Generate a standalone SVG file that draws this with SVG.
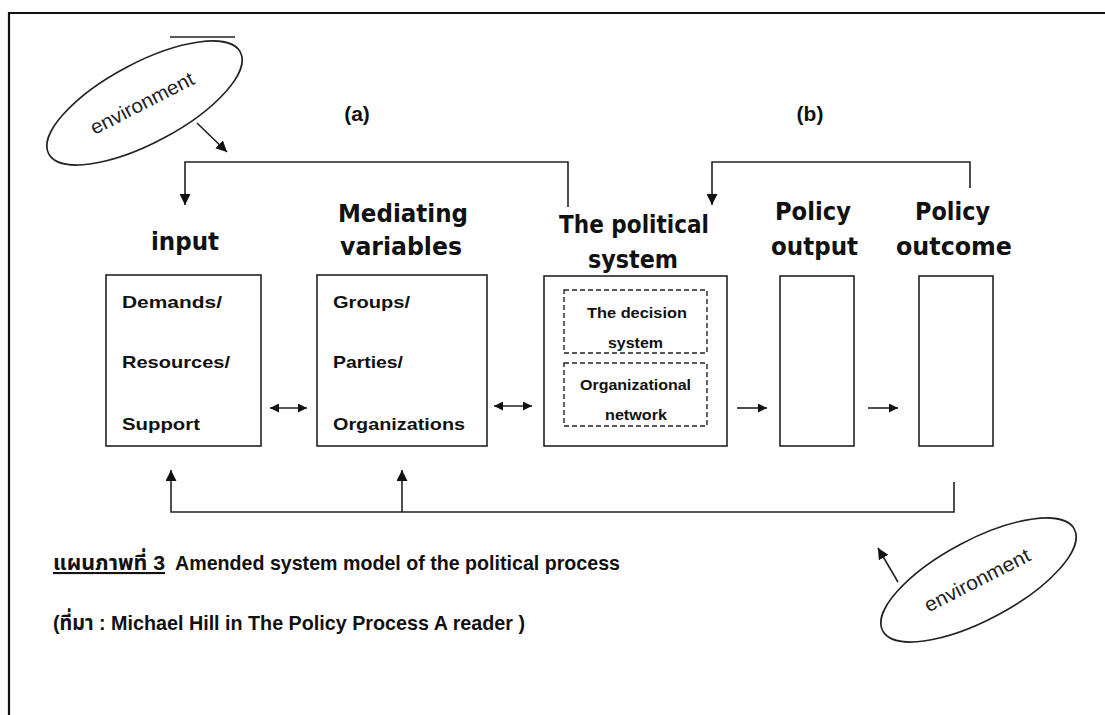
<svg xmlns="http://www.w3.org/2000/svg" width="1105" height="715" viewBox="0 0 1105 715">
  <style>
    .frame { fill: none; stroke: #111; stroke-width: 2.2; }
    .box { fill: #fff; stroke: #222; stroke-width: 1.6; }
    .dash { fill: none; stroke: #222; stroke-width: 1.4; stroke-dasharray: 5 3; }
    .wire { fill: none; stroke: #222; stroke-width: 1.6; }
    .env { fill: #fff; stroke: #222; stroke-width: 1.6; }
    .head { font-family: "DejaVu Sans", Verdana, sans-serif; font-weight: bold; font-size: 25px; fill: #111; }
    .item { font-family: "Liberation Sans", Arial, sans-serif; font-weight: bold; font-size: 17px; fill: #111; }
    .small { font-family: "Liberation Sans", Arial, sans-serif; font-weight: bold; font-size: 15px; fill: #111; }
    .envtxt { font-family: "Liberation Sans", Arial, sans-serif; font-size: 20px; fill: #222; }
    .tag { font-family: "Liberation Sans", Arial, sans-serif; font-weight: bold; font-size: 21px; fill: #111; }
    .cap { font-family: "Liberation Sans", Arial, "Noto Sans Thai", "Noto Serif Thai", Loma, Garuda, "Tlwg Typo", "DejaVu Sans", sans-serif; font-weight: bold; font-size: 21px; fill: #111; }
  </style>
  <defs>
    <marker id="tri" viewBox="0 0 10 10" refX="10" refY="5" markerWidth="11" markerHeight="11" markerUnits="userSpaceOnUse" orient="auto-start-reverse">
      <path d="M0,0 L10,5 L0,10 Z" fill="#111"/>
    </marker>
    <marker id="tri-s" viewBox="0 0 10 10" refX="10" refY="5" markerWidth="9" markerHeight="9" markerUnits="userSpaceOnUse" orient="auto-start-reverse">
      <path d="M0,0 L10,5 L0,10 Z" fill="#111"/>
    </marker>
  </defs>

  <rect width="1105" height="715" fill="#fff"/>
  <!-- page frame: top and left edges -->
  <path class="frame" d="M9,715 V13 H1105"/>

  <!-- environment bubble, top left -->
  <g id="env-top">
    <line x1="170" y1="37" x2="235" y2="37" stroke="#222" stroke-width="1.6"/>
    <ellipse class="env" cx="144.5" cy="103" rx="108.5" ry="40" transform="rotate(-28 144.5 103)"/>
    <text class="envtxt" x="142" y="110" text-anchor="middle" textLength="114" lengthAdjust="spacingAndGlyphs" transform="rotate(-27 142 103)">environment</text>
  </g>

  <!-- environment bubble, bottom right -->
  <g id="env-bottom">
    <ellipse class="env" cx="978.5" cy="580" rx="108.5" ry="40" transform="rotate(-28 978.5 580)"/>
    <text class="envtxt" x="977" y="587" text-anchor="middle" textLength="116" lengthAdjust="spacingAndGlyphs" transform="rotate(-27 977 580)">environment</text>
  </g>

  <text class="tag" x="357" y="121" text-anchor="middle">(a)</text>
  <text class="tag" x="810" y="121" text-anchor="middle">(b)</text>

  <g id="input">
    <text class="head" x="151" y="250" textLength="68" lengthAdjust="spacingAndGlyphs">input</text>
    <rect class="box" x="106" y="275" width="155" height="171"/>
    <text class="item" x="122" y="308" textLength="100" lengthAdjust="spacingAndGlyphs">Demands/</text>
    <text class="item" x="122" y="368" textLength="108" lengthAdjust="spacingAndGlyphs">Resources/</text>
    <text class="item" x="122" y="430" textLength="78" lengthAdjust="spacingAndGlyphs">Support</text>
  </g>

  <g id="mediating">
    <text class="head" x="338" y="222" textLength="130" lengthAdjust="spacingAndGlyphs">Mediating</text>
    <text class="head" x="340" y="255" textLength="122" lengthAdjust="spacingAndGlyphs">variables</text>
    <rect class="box" x="317" y="275" width="170" height="171"/>
    <text class="item" x="333" y="308" textLength="77" lengthAdjust="spacingAndGlyphs">Groups/</text>
    <text class="item" x="333" y="368" textLength="70" lengthAdjust="spacingAndGlyphs">Parties/</text>
    <text class="item" x="333" y="430" textLength="132" lengthAdjust="spacingAndGlyphs">Organizations</text>
  </g>

  <g id="political-system">
    <text class="head" x="559" y="233" textLength="150" lengthAdjust="spacingAndGlyphs">The political</text>
    <text class="head" x="588" y="268" textLength="90" lengthAdjust="spacingAndGlyphs">system</text>
    <rect class="box" x="544" y="276" width="183" height="170"/>
    <rect class="dash" x="564" y="290" width="143" height="63"/>
    <rect class="dash" x="564" y="363" width="143" height="63"/>
    <text class="small" x="587" y="318" textLength="100" lengthAdjust="spacingAndGlyphs">The decision</text>
    <text class="small" x="608" y="348" textLength="55" lengthAdjust="spacingAndGlyphs">system</text>
    <text class="small" x="580" y="390" textLength="111" lengthAdjust="spacingAndGlyphs">Organizational</text>
    <text class="small" x="605" y="420" textLength="62" lengthAdjust="spacingAndGlyphs">network</text>
  </g>

  <g id="policy-output">
    <text class="head" x="775" y="220" textLength="76" lengthAdjust="spacingAndGlyphs">Policy</text>
    <text class="head" x="771" y="255" textLength="87" lengthAdjust="spacingAndGlyphs">output</text>
    <rect class="box" x="780" y="276" width="74" height="170"/>
  </g>

  <g id="policy-outcome">
    <text class="head" x="915" y="220" textLength="75" lengthAdjust="spacingAndGlyphs">Policy</text>
    <text class="head" x="896" y="255" textLength="116" lengthAdjust="spacingAndGlyphs">outcome</text>
    <rect class="box" x="919" y="276" width="74" height="170"/>
  </g>

  <g id="connectors">
    <!-- environment pressure arrows -->
    <line class="wire" x1="197" y1="123" x2="227" y2="152" marker-end="url(#tri)"/>
    <line class="wire" x1="898" y1="582" x2="878" y2="548" marker-end="url(#tri)"/>
    <!-- feedback (a): political system back to input -->
    <path class="wire" d="M568,207 V162 H185 V205" marker-end="url(#tri)"/>
    <!-- feedback (b): outcome back to political system -->
    <path class="wire" d="M970,188 V162 H712 V205" marker-end="url(#tri)"/>
    <!-- two-way links -->
    <line class="wire" x1="270" y1="408" x2="307" y2="408" marker-start="url(#tri-s)" marker-end="url(#tri-s)"/>
    <line class="wire" x1="494" y1="406" x2="532" y2="406" marker-start="url(#tri-s)" marker-end="url(#tri-s)"/>
    <!-- forward flow -->
    <line class="wire" x1="737" y1="408" x2="767" y2="408" marker-end="url(#tri-s)"/>
    <line class="wire" x1="868" y1="408" x2="898" y2="408" marker-end="url(#tri-s)"/>
    <!-- bottom feedback loop -->
    <path class="wire" d="M954,482 V512 H171 V470" marker-end="url(#tri)"/>
    <line class="wire" x1="402" y1="512" x2="402" y2="470" marker-end="url(#tri)"/>
  </g>

  <!-- caption -->
  <text class="cap" x="53" y="570"><tspan text-decoration="underline" textLength="112" lengthAdjust="spacingAndGlyphs">แผนภาพที่ 3</tspan></text>
  <text class="cap" x="175" y="570" textLength="445" lengthAdjust="spacingAndGlyphs">Amended system model of the political process</text>
  <text class="cap" x="53" y="630" textLength="472" lengthAdjust="spacingAndGlyphs">(ที่มา : Michael Hill in The Policy Process A reader )</text>
</svg>
